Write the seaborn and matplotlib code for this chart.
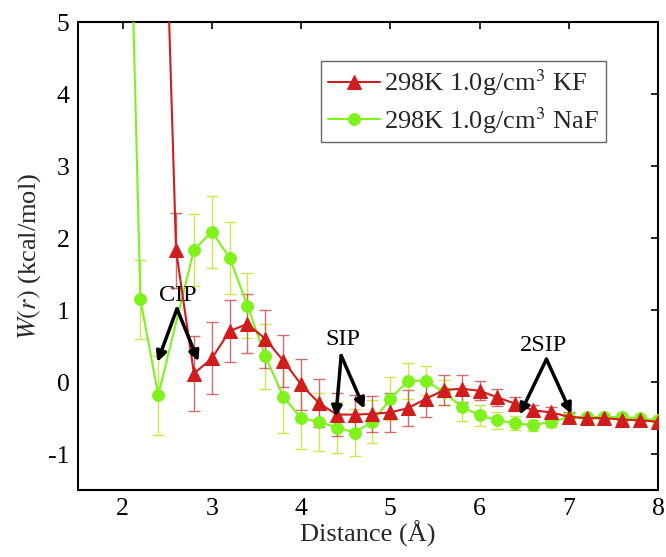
import numpy as np
import pandas as pd
import matplotlib
matplotlib.use("Agg")
import matplotlib.pyplot as plt
import seaborn as sns

# ---- data ----
r_kf = [2.4, 2.6, 2.8, 3.0, 3.2, 3.4, 3.6, 3.8, 4.0, 4.2, 4.4, 4.6, 4.8, 5.0, 5.2, 5.4,
        5.6, 5.8, 6.0, 6.2, 6.4, 6.6, 6.8, 7.0, 7.2, 7.4, 7.6, 7.8, 8.0]
w_kf = [10.0, 1.83, 0.12, 0.33, 0.71, 0.81, 0.60, 0.30, -0.03, -0.29, -0.45, -0.45, -0.44, -0.42,
        -0.36, -0.23, -0.11, -0.09, -0.12, -0.21, -0.30, -0.39, -0.42, -0.48, -0.50, -0.50,
        -0.52, -0.53, -0.55]
e_kf = [0.0, 0.52, 0.52, 0.50, 0.43, 0.41, 0.40, 0.36, 0.35, 0.33, 0.30, 0.27, 0.25, 0.27,
        0.25, 0.25, 0.21, 0.19, 0.13, 0.12, 0.10, 0.08, 0.07, 0.06, 0.05, 0.05, 0.05, 0.05, 0.05]

r_naf = [2.0, 2.2, 2.4, 2.8, 3.0, 3.2, 3.4, 3.6, 3.8, 4.0, 4.2, 4.4, 4.6, 4.8, 5.0, 5.2,
         5.4, 5.6, 5.8, 6.0, 6.2, 6.4, 6.6, 6.8, 7.0, 7.2, 7.4, 7.6, 7.8, 8.0]
w_naf = [11.0, 1.15, -0.18, 1.84, 2.09, 1.73, 1.06, 0.36, -0.20, -0.50, -0.55, -0.63,
         -0.70, -0.55, -0.23, 0.02, 0.02, -0.14, -0.34, -0.46, -0.53, -0.57, -0.60, -0.55,
         -0.49, -0.49, -0.48, -0.49, -0.50, -0.53]
e_naf = [0.0, 0.55, 0.55, 0.50, 0.50, 0.50, 0.45, 0.45, 0.50, 0.43, 0.40, 0.35, 0.33,
         0.30, 0.30, 0.25, 0.20, 0.17, 0.20, 0.15, 0.12, 0.10, 0.08, 0.07, 0.06, 0.05, 0.05,
         0.05, 0.05, 0.05]

label_kf = r"298K 1.0g/cm$^3$ KF"
label_naf = r"298K 1.0g/cm$^3$ NaF"

annotations = [
    ("CIP", (2.62, 1.21), [(2.39, 0.28), (2.85, 0.29)], (2.61, 1.02)),
    ("SIP", (4.47, 0.59), [(4.39, -0.48), (4.71, -0.37)], (4.45, 0.37)),
    ("2SIP", (6.72, 0.51), [(6.45, -0.45), (7.03, -0.44)], (6.75, 0.32)),
]

# ---- style ----
sns.set_style("white")
plt.rcParams["font.family"] = ["Liberation Serif", "DejaVu Serif"]
plt.rcParams["mathtext.fontset"] = "stix"
plt.rcParams["axes.unicode_minus"] = False

c_kf = "#d01c1c"
c_naf = "#7ff21c"

df_kf = pd.DataFrame({"r": r_kf, "w": w_kf, "e": e_kf})
df_naf = pd.DataFrame({"r": r_naf, "w": w_naf, "e": e_naf})

fig = plt.figure(figsize=(6.66, 5.57), dpi=100)
ax = fig.add_axes([0.117, 0.12, 0.871, 0.84])

# error bars
ax.errorbar(df_naf["r"], df_naf["w"], yerr=df_naf["e"], fmt="none", ecolor="#c8e63c",
            elinewidth=1.0, capsize=4, capthick=1.0, alpha=0.9, zorder=2)
ax.errorbar(df_kf["r"], df_kf["w"], yerr=df_kf["e"], fmt="none", ecolor="#c84a4a",
            elinewidth=1.0, capsize=4, capthick=1.0, alpha=0.8, zorder=2)

sns.lineplot(data=df_kf, x="r", y="w", ax=ax, color=c_kf, marker="^", markersize=10,
             markeredgecolor=c_kf, linewidth=1.5, label=label_kf, zorder=4)
sns.lineplot(data=df_naf, x="r", y="w", ax=ax, color=c_naf, marker="o", markersize=8.5,
             markeredgecolor=c_naf, linewidth=1.5, label=label_naf, zorder=3)

for text, tpos, targets, apex in annotations:
    ax.text(tpos[0], tpos[1], text, ha="center", va="center", fontsize=17.5, color="black", zorder=6)
    for tgt in targets:
        ax.annotate("", xy=tgt, xytext=apex,
                    arrowprops=dict(arrowstyle="-|>,head_length=0.6,head_width=0.3",
                                    color="black", lw=2.5, shrinkA=0, shrinkB=0),
                    zorder=6)

ax.set_xlim(1.5, 8)
ax.set_ylim(-1.5, 5)
ax.set_xticks([2, 3, 4, 5, 6, 7, 8])
ax.set_yticks([-1, 0, 1, 2, 3, 4, 5])
ax.tick_params(direction="in", length=5, width=1.2, top=True, right=True,
               labelsize=18.5, colors="black", pad=6)
for s in ax.spines.values():
    s.set_color("black")
    s.set_linewidth(1.5)

ax.set_xlabel("Distance (Å)", fontsize=19, labelpad=0)
ax.set_ylabel(r"$\it{W(r)}$ (kcal/mol)", fontsize=19, labelpad=4)

leg = ax.legend(loc="upper right", bbox_to_anchor=(0.91, 0.917), fontsize=19, frameon=True,
                fancybox=False, edgecolor="#404040", handlelength=2.0, borderpad=0.25,
                labelspacing=0.25, handletextpad=0.15, borderaxespad=0)
leg.get_frame().set_linewidth(1.0)

fig.savefig("out.png", dpi=100)
